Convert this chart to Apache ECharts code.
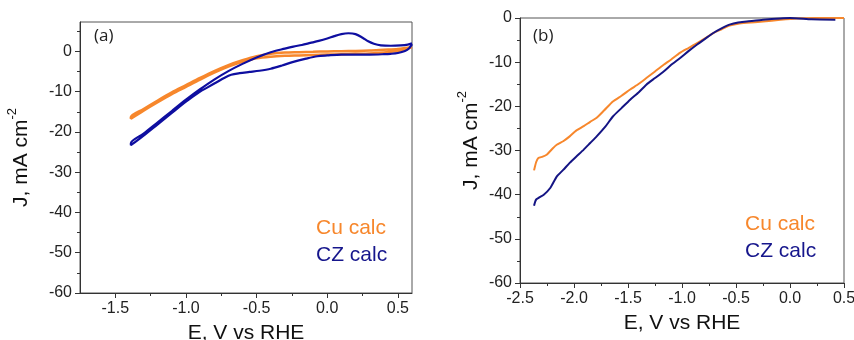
<!DOCTYPE html>
<html>
<head>
<meta charset="utf-8">
<script src="https://cdn.jsdelivr.net/npm/echarts@6/dist/echarts.min.js"></script>
<style>
  html, body { margin: 0; padding: 0; background: #fff; }
  #chart { width: 854px; height: 340px; }
</style>
</head>
<body>
<div id="chart"></div>
<script>
// ---- Tick values ----
const cvMajorE = [-1.5, -1.0, -0.5, 0.0, 0.5];
const cvMinorE = [-1.25, -0.75, -0.25, 0.25];
const lsvMajorE = [-2.5, -2.0, -1.5, -1.0, -0.5, 0.0, 0.5];
const lsvMinorE = [-2.25, -1.75, -1.25, -0.75, -0.25, 0.25];
const majorJ = [-60, -50, -40, -30, -20, -10, 0];
const cvMinorJ = [-55, -45, -35, -25, -15, -5, 5];
const lsvMinorJ = [-55, -45, -35, -25, -15, -5];

// ---- (a) cyclic voltammograms: [E (V vs RHE), J (mA cm-2)], cathodic sweep then anodic sweep ----
const cuCV = [
  [0.6, 1.1], [0.55, 0.5], [0.5, 0.1], [0.4, -0.3], [0.3, -0.5], [0.2, -0.6], [0.1, -0.7],
  [0.0, -0.8], [-0.1, -0.9], [-0.2, -1.0], [-0.3, -1.1], [-0.4, -1.3], [-0.5, -1.7],
  [-0.6, -2.6], [-0.7, -3.8], [-0.8, -5.3], [-0.9, -7.0], [-1.0, -8.8], [-1.1, -10.6],
  [-1.2, -12.6], [-1.3, -14.7], [-1.39, -16.7],
  [-1.39, -16.3], [-1.3, -14.3], [-1.2, -12.2], [-1.1, -10.2], [-1.0, -8.4], [-0.9, -6.6],
  [-0.8, -4.9], [-0.7, -3.4], [-0.6, -2.2], [-0.5, -1.2], [-0.4, -0.6], [-0.3, -0.3],
  [-0.2, -0.2], [-0.1, -0.1], [0.0, 0.0], [0.1, 0.05], [0.2, 0.1], [0.3, 0.2], [0.4, 0.4],
  [0.5, 0.6], [0.6, 1.1]
];
const czCV = [
  [0.6, 1.8], [0.58, 0.8], [0.55, 0.1], [0.5, -0.4], [0.45, -0.6], [0.4, -0.7], [0.3, -0.8],
  [0.2, -0.8], [0.1, -0.8], [0.0, -1.0], [-0.07, -1.2], [-0.15, -1.8], [-0.24, -2.6],
  [-0.32, -3.5], [-0.4, -4.3], [-0.48, -4.8], [-0.55, -5.1], [-0.62, -5.4], [-0.68, -5.8],
  [-0.73, -6.6], [-0.78, -7.6], [-0.85, -9.0], [-0.9, -10.0], [-1.0, -12.5], [-1.1, -15.3],
  [-1.2, -18.1], [-1.3, -20.9], [-1.39, -23.3],
  [-1.39, -22.8], [-1.3, -20.4], [-1.2, -17.6], [-1.1, -14.8], [-1.0, -12.0], [-0.9, -9.4],
  [-0.8, -7.0], [-0.7, -4.9], [-0.6, -3.1], [-0.5, -1.5], [-0.4, -0.2], [-0.3, 0.7],
  [-0.24, 1.2], [-0.18, 1.6], [-0.12, 2.1], [-0.06, 2.6], [0.0, 3.2], [0.05, 3.8],
  [0.1, 4.3], [0.15, 4.5], [0.2, 4.3], [0.25, 3.4], [0.29, 2.5], [0.33, 1.9], [0.38, 1.5],
  [0.45, 1.4], [0.52, 1.5], [0.57, 1.7], [0.6, 2.0]
];

// ---- (b) linear sweep voltammograms ----
const cuLSV = [
  [-2.37, -34.5], [-2.35, -32.6], [-2.33, -31.7], [-2.29, -31.4], [-2.25, -30.9],
  [-2.2, -29.6], [-2.16, -28.7], [-2.1, -27.9], [-2.04, -26.8], [-1.98, -25.5],
  [-1.91, -24.5], [-1.85, -23.5], [-1.79, -22.6], [-1.72, -20.9], [-1.64, -18.9],
  [-1.56, -17.6], [-1.48, -16.2], [-1.4, -14.9], [-1.33, -13.6], [-1.25, -12.1],
  [-1.17, -10.6], [-1.1, -9.4], [-1.02, -7.9], [-0.94, -6.8], [-0.86, -5.7],
  [-0.78, -4.5], [-0.71, -3.4], [-0.63, -2.5], [-0.56, -1.7], [-0.48, -1.3],
  [-0.4, -1.1], [-0.25, -0.8], [-0.09, -0.4], [0.06, -0.1], [0.25, 0.0], [0.5, 0.0]
];
const czLSV = [
  [-2.37, -42.5], [-2.35, -41.1], [-2.28, -40.0], [-2.22, -38.5], [-2.16, -35.9],
  [-2.1, -34.4], [-2.04, -32.8], [-1.98, -31.4], [-1.91, -29.8], [-1.85, -28.3],
  [-1.79, -26.8], [-1.71, -24.6], [-1.64, -22.3], [-1.56, -20.4], [-1.48, -18.5],
  [-1.4, -16.8], [-1.33, -15.1], [-1.25, -13.6], [-1.17, -12.1], [-1.1, -10.6],
  [-1.02, -9.1], [-0.94, -7.5], [-0.86, -6.0], [-0.78, -4.6], [-0.71, -3.4],
  [-0.63, -2.3], [-0.56, -1.5], [-0.48, -1.0], [-0.4, -0.8], [-0.25, -0.4],
  [-0.09, -0.1], [0.0, 0.0], [0.2, -0.3], [0.42, -0.4]
];

const ORANGE = '#F7872C';
const BLUE_A = '#0E0EA0';
const BLUE_B = '#141484';
const AXIS = '#333';
const FONT = '"Liberation Sans", Arial, sans-serif';

const fmt1 = v => v.toFixed(1);
const fmt0 = v => String(Math.round(v));

function xAxes(grid, min, max, major, minor, gap) {
  return [
    {
      type: 'value', gridIndex: grid, min, max, position: 'bottom',
      name: 'E, V vs RHE', nameLocation: 'middle', nameGap: gap,
      nameTextStyle: { fontFamily: FONT, fontSize: 21, color: '#111' },
      axisLine: { show: true, onZero: false, lineStyle: { color: AXIS, width: 1 } },
      axisTick: { show: true, inside: false, length: 5, customValues: major, lineStyle: { color: AXIS } },
      axisLabel: { customValues: major, formatter: fmt1, margin: 8, fontFamily: FONT, fontSize: 16, color: '#222' },
      splitLine: { show: false }
    },
    {
      type: 'value', gridIndex: grid, min, max, position: 'bottom',
      axisLine: { show: false, onZero: false },
      axisTick: { show: true, inside: false, length: 3, customValues: minor, lineStyle: { color: AXIS } },
      axisLabel: { show: false },
      splitLine: { show: false }
    }
  ];
}

function yAxes(grid, min, max, major, minor, gap, pad) {
  return [
    {
      type: 'value', gridIndex: grid, min, max, position: 'left',
      name: '{t|J, mA cm}{s|-2}', nameLocation: 'middle', nameGap: gap, nameRotate: 90,
      nameTextStyle: {
        padding: [0, 0, 0, pad],
        rich: {
          t: { fontFamily: FONT, fontSize: 21, lineHeight: 30, color: '#111' },
          s: { fontFamily: FONT, fontSize: 13, lineHeight: 13, color: '#111', verticalAlign: 'top' }
        }
      },
      axisLine: { show: true, onZero: false, lineStyle: { color: AXIS, width: 1 } },
      axisTick: { show: true, inside: false, length: 5, customValues: major, lineStyle: { color: AXIS } },
      axisLabel: { customValues: major, formatter: fmt0, margin: 8, fontFamily: FONT, fontSize: 16, color: '#222' },
      splitLine: { show: false }
    },
    {
      type: 'value', gridIndex: grid, min, max, position: 'left',
      axisLine: { show: false, onZero: false },
      axisTick: { show: true, inside: false, length: 3, customValues: minor, lineStyle: { color: AXIS } },
      axisLabel: { show: false },
      splitLine: { show: false }
    }
  ];
}

function curve(name, data, color, xi, yi, width, smooth) {
  return {
    name, type: 'line', data, xAxisIndex: xi, yAxisIndex: yi,
    showSymbol: false, smooth, clip: true,
    lineStyle: { color, width }, animation: false
  };
}

const chart = echarts.init(document.getElementById('chart'), null, { renderer: 'canvas' });
chart.setOption({
  backgroundColor: '#fff',
  animation: false,
  grid: [
    { left: 80, right: 442, top: 22, bottom: 47, outerBoundsMode: 'none', containLabel: false,
      show: true, borderColor: '#555', borderWidth: 1, backgroundColor: 'transparent' },
    { left: 520, right: 10, top: 18, bottom: 57, outerBoundsMode: 'none', containLabel: false,
      show: true, borderColor: '#555', borderWidth: 1, backgroundColor: 'transparent' }
  ],
  xAxis: [
    ...xAxes(0, -1.75, 0.6, cvMajorE, cvMinorE, 30),
    ...xAxes(1, -2.5, 0.5, lsvMajorE, lsvMinorE, 30)
  ],
  yAxis: [
    ...yAxes(0, -60, 7.3, majorJ, cvMinorJ, 44, 0),
    ...yAxes(1, -60, 0, majorJ, lsvMinorJ, 34, 20)
  ],
  series: [
    curve('Cu calc', cuCV, ORANGE, 0, 0, 2.5, 0.3),
    curve('CZ calc', czCV, BLUE_A, 0, 0, 2.2, 0.3),
    curve('Cu calc', cuLSV, ORANGE, 2, 2, 2, 0.2),
    curve('CZ calc', czLSV, BLUE_B, 2, 2, 2, 0.2)
  ],
  graphic: [
    { type: 'text', left: 94, top: 28, style: { text: '(a)', font: '17px "Open Sans", sans-serif', fill: '#222' } },
    { type: 'text', left: 533, top: 28, style: { text: '(b)', font: '17px "Open Sans", sans-serif', fill: '#222' } },
    { type: 'text', x: 316, y: 228, style: { text: 'Cu calc', font: '21px ' + FONT, fill: ORANGE, verticalAlign: 'middle' } },
    { type: 'text', x: 316, y: 255, style: { text: 'CZ calc', font: '21px ' + FONT, fill: '#16168C', verticalAlign: 'middle' } },
    { type: 'text', x: 745, y: 224, style: { text: 'Cu calc', font: '21px ' + FONT, fill: ORANGE, verticalAlign: 'middle' } },
    { type: 'text', x: 745, y: 251, style: { text: 'CZ calc', font: '21px ' + FONT, fill: '#16168C', verticalAlign: 'middle' } }
  ]
});
</script>
</body>
</html>
